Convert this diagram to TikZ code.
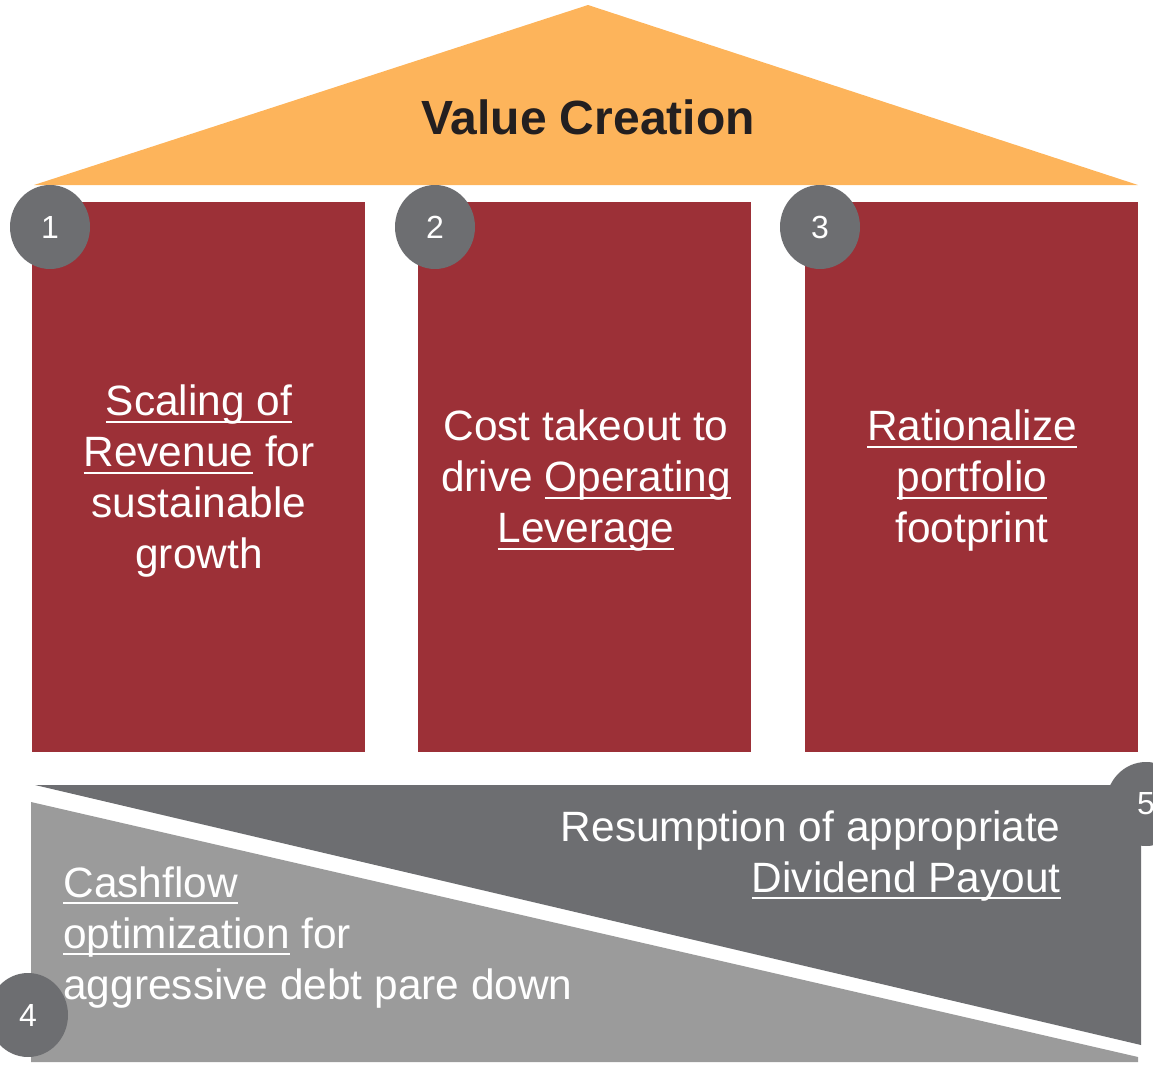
\documentclass[tikz,border=0pt]{standalone}
\usepackage{fontspec}
\setmainfont{Liberation Sans}
\usetikzlibrary{shapes.geometric}
\definecolor{roofamber}{HTML}{FDB45B}
\definecolor{pillarred}{HTML}{9C3037}
\definecolor{slategray}{HTML}{6D6E71}
\definecolor{paregray}{HTML}{9B9B9B}
\definecolor{inkdark}{HTML}{231F20}
% underline at a fixed depth below the baseline
\newsavebox{\undlbox}
\newcommand{\undl}[1]{\sbox{\undlbox}{#1}\rlap{\rule[-3.6pt]{\wd\undlbox}{1pt}}\usebox{\undlbox}}

\begin{document}
\begin{tikzpicture}[x=0.5pt,y=-0.5pt,
  badge/.style={ellipse, fill=slategray, minimum width=40pt, minimum height=42pt,
    inner sep=0pt, text=white, font=\fontsize{16}{18}\selectfont},
  pillartext/.style={align=center, text=white, inner sep=0pt,
    font=\fontsize{21.2}{25.5}\selectfont},
  basetext/.style={text=white, inner sep=0pt, font=\fontsize{21.2}{25.5}\selectfont}]
\useasboundingbox (0,0) rectangle (1153,1066);

% Roof
\fill[roofamber] (34,185) -- (588,5) -- (1138,185) -- cycle;
\node[anchor=base, inkdark, font=\fontsize{24}{30}\selectfont\bfseries] (title) at (588,134) {Value Creation};

% Pillars
\fill[pillarred] (32,202) rectangle (365,752);
\fill[pillarred] (418,202) rectangle (751,752);
\fill[pillarred] (805,202) rectangle (1138,752);

% Numbered badges on the pillars
\node[badge] (n1) at (50,227) {1};
\node[badge] (n2) at (435,227) {2};
\node[badge] (n3) at (820,227) {3};

% Pillar texts
\node[pillartext] (revenue) at (199,481) {\undl{Scaling of}\\\undl{Revenue} for\\sustainable\\growth};
\node[pillartext] (leverage) at (586,481) {Cost takeout to\\drive \undl{Operating}\\\undl{Leverage}};
\node[pillartext] (portfolio) at (972,481) {\undl{Rationalize}\\\undl{portfolio}\\footprint};

% Foundation: two wedges
\fill[slategray] (35,785) -- (1141,785) -- (1141,1045) -- cycle;
\fill[paregray] (31,802) -- (1138,1057) -- (1138,1062) -- (31,1062) -- cycle;

% Badges on the foundation
\node[badge] (n4) at (28,1015) {4};
\node[badge] (n5) at (1146,804) {5};

% Foundation texts
\node[basetext, anchor=north east, align=right] (dividend) at (1061,810) {Resumption of appropriate\\\undl{Dividend Payout}};
\node[basetext, anchor=north west, align=left] (cashflow) at (63,866) {\undl{Cashflow}\\\undl{optimization} for\\aggressive debt pare down};
\end{tikzpicture}
\end{document}
